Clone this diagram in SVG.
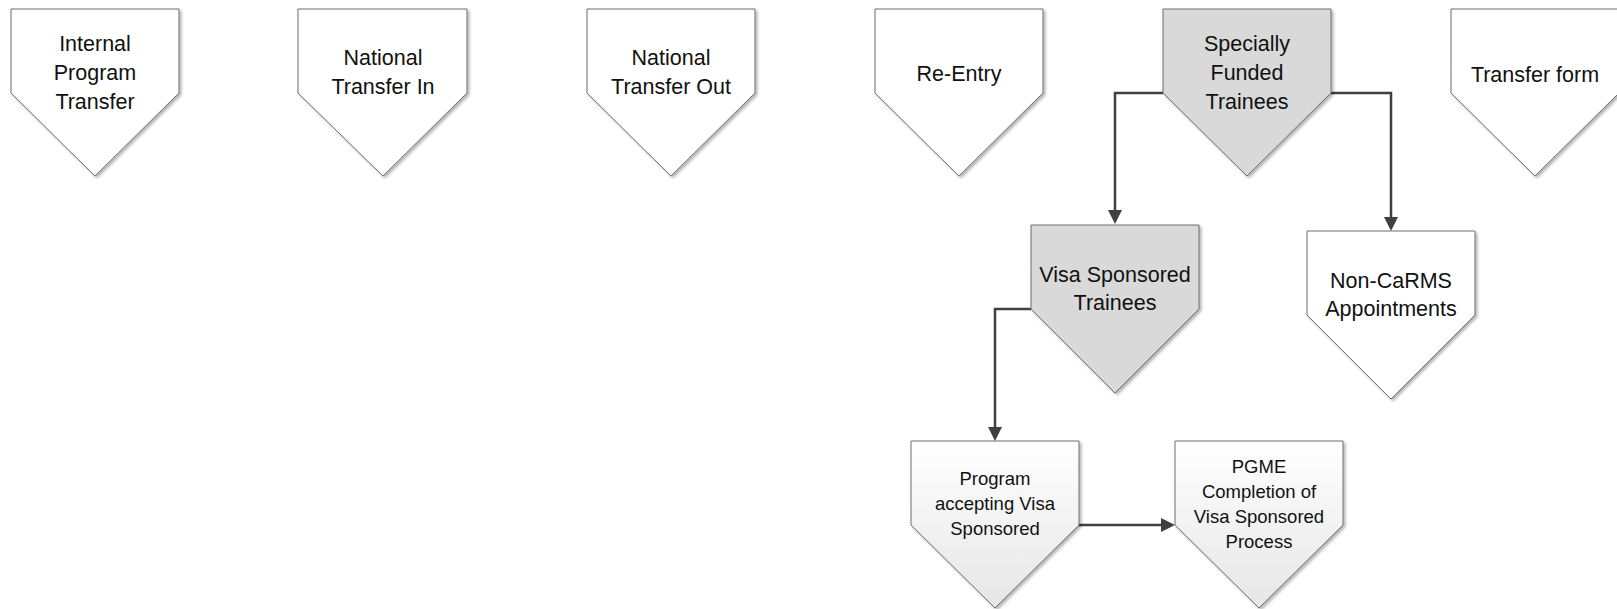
<svg xmlns="http://www.w3.org/2000/svg" width="1617" height="609" viewBox="0 0 1617 609">
<defs>
<style>
.n{stroke:#6e6e6e;stroke-width:1;filter:url(#sh)}
.w{fill:#ffffff}
.g{fill:#d9d9d9}
.gr{fill:url(#grad)}
.t{font-family:"Liberation Sans",Arial,sans-serif;font-size:21.5px;fill:#111;text-anchor:middle}
.s{font-family:"Liberation Sans",Arial,sans-serif;font-size:18.5px;fill:#111;text-anchor:middle}
.c{fill:none;stroke:#404040;stroke-width:2.5;marker-end:url(#ah)}
</style>
<filter id="sh" x="-10%" y="-10%" width="130%" height="130%">
<feGaussianBlur in="SourceAlpha" stdDeviation="1.5"/>
<feOffset dx="2" dy="2" result="o"/>
<feComponentTransfer><feFuncA type="linear" slope="0.3"/></feComponentTransfer>
<feMerge><feMergeNode/><feMergeNode in="SourceGraphic"/></feMerge>
</filter>
<linearGradient id="grad" x1="0" y1="0" x2="0" y2="1">
<stop offset="0" stop-color="#ffffff"/>
<stop offset="1" stop-color="#e6e6e6"/>
</linearGradient>
<marker id="ah" markerUnits="userSpaceOnUse" markerWidth="14" markerHeight="14" refX="4" refY="7" orient="auto">
<path d="M0,0 L14,7 L0,14 z" fill="#404040"/>
</marker>
</defs>
<rect width="1617" height="609" fill="#ffffff"/>

<g id="connectors">
<path class="c" d="M1163,93 H1115 V214"/>
<path class="c" d="M1331,93 H1391 V221"/>
<path class="c" d="M1031,309 H995 V431"/>
<path class="c" d="M1079,525 H1165"/>
</g>

<g id="n-internal">
<path class="n w" d="M11,9 H179 V93 L95,176 L11,93 Z"/>
<text class="t" x="95" y="51">Internal</text>
<text class="t" x="95" y="80">Program</text>
<text class="t" x="95" y="109">Transfer</text>
</g>
<g id="n-national-in">
<path class="n w" d="M298,9 H467 V93 L383,176 L298,93 Z"/>
<text class="t" x="383" y="65">National</text>
<text class="t" x="383" y="94">Transfer In</text>
</g>
<g id="n-national-out">
<path class="n w" d="M587,9 H755 V93 L671,176 L587,93 Z"/>
<text class="t" x="671" y="65">National</text>
<text class="t" x="671" y="94">Transfer Out</text>
</g>
<g id="n-reentry">
<path class="n w" d="M875,9 H1043 V93 L959,176 L875,93 Z"/>
<text class="t" x="959" y="81">Re-Entry</text>
</g>
<g id="n-specially">
<path class="n g" d="M1163,9 H1331 V93 L1247,176 L1163,93 Z"/>
<text class="t" x="1247" y="51">Specially</text>
<text class="t" x="1247" y="80">Funded</text>
<text class="t" x="1247" y="109">Trainees</text>
</g>
<g id="n-transfer-form">
<path class="n w" d="M1451,9 H1619 V93 L1535,176 L1451,93 Z"/>
<text class="t" x="1535" y="82">Transfer form</text>
</g>
<g id="n-visa">
<path class="n g" d="M1031,225 H1199 V309 L1115,393 L1031,309 Z"/>
<text class="t" x="1115" y="282">Visa Sponsored</text>
<text class="t" x="1115" y="310">Trainees</text>
</g>
<g id="n-noncarms">
<path class="n w" d="M1307,231 H1475 V315 L1391,399 L1307,315 Z"/>
<text class="t" x="1391" y="288">Non-CaRMS</text>
<text class="t" x="1391" y="316">Appointments</text>
</g>
<g id="n-program">
<path class="n gr" d="M911,441 H1079 V525 L995,608 L911,525 Z"/>
<text class="s" x="995" y="485">Program</text>
<text class="s" x="995" y="510">accepting Visa</text>
<text class="s" x="995" y="535">Sponsored</text>
</g>
<g id="n-pgme">
<path class="n gr" d="M1175,441 H1343 V525 L1259,608 L1175,525 Z"/>
<text class="s" x="1259" y="473">PGME</text>
<text class="s" x="1259" y="498">Completion of</text>
<text class="s" x="1259" y="523">Visa Sponsored</text>
<text class="s" x="1259" y="548">Process</text>
</g>
</svg>
